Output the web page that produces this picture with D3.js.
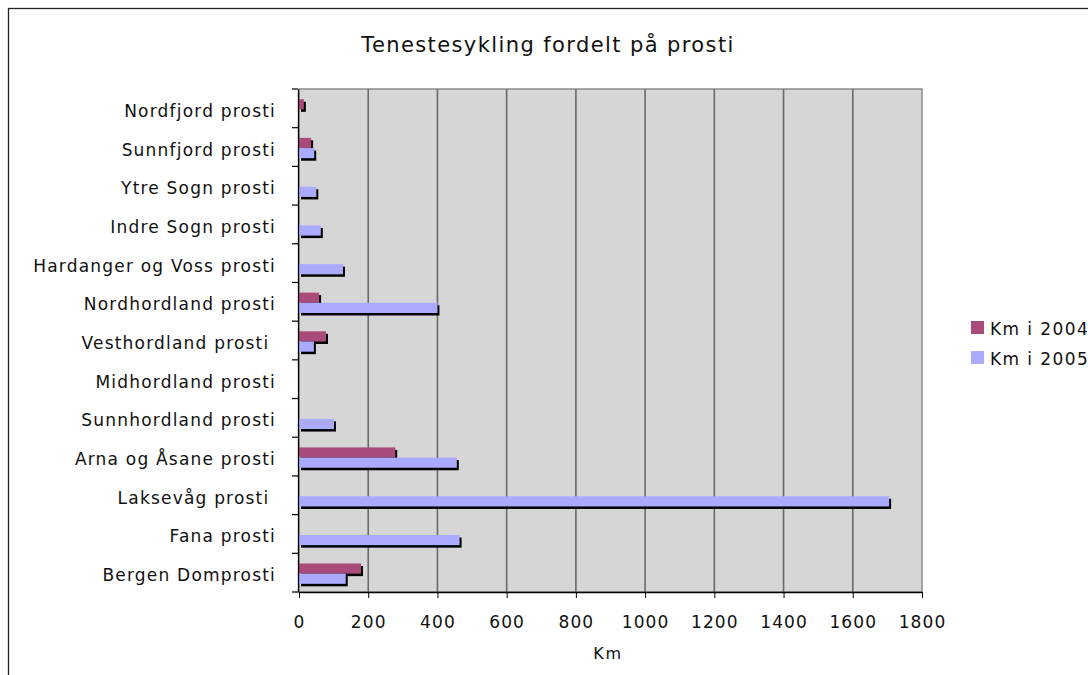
<!DOCTYPE html>
<html>
<head>
<meta charset="utf-8">
<script src="https://cdn.jsdelivr.net/npm/d3@7"></script>
<style>
  body { margin: 0; background: #fff; }
  svg text { font-family: "DejaVu Sans", Verdana, sans-serif; fill: #111; white-space: pre; }
</style>
</head>
<body>
<svg id="chart" width="1088" height="675"></svg>
<script>
// categories, top to bottom as drawn
var categories = ["Nordfjord prosti", "Sunnfjord prosti", "Ytre Sogn prosti", "Indre Sogn prosti",
  "Hardanger og Voss prosti", "Nordhordland prosti", "Vesthordland prosti ", "Midhordland prosti",
  "Sunnhordland prosti", "Arna og Åsane prosti", "Laksevåg prosti ", "Fana prosti", "Bergen Domprosti"];
var series = ["Km i 2004", "Km i 2005"];
var km2004 = [14, 35, 0, 0, 0, 58, 78, 0, 0, 278, 0, 0, 179];
var km2005 = [0, 44, 50, 63, 127, 400, 43, 0, 101, 456, 1705, 464, 135];
var xTicks = [0, 200, 400, 600, 800, 1000, 1200, 1400, 1600, 1800];
var colors = ["#a94b7a", "#aaaaff"];

// plot area
var plot = { left: 299, right: 922, top: 89, bottom: 592 };

var svg = d3.select("#chart");

// outer chart frame (runs off the page on the right and bottom)
svg.append("rect").attr("x", 8.5).attr("y", 8.5).attr("width", 1200).attr("height", 800)
  .attr("fill", "#fff").attr("stroke", "#222").attr("stroke-width", 1.3);

var x = d3.scaleLinear().domain([0, 1800]).range([plot.left, plot.right]);
var y0 = d3.scaleBand().domain(categories).range([plot.top, plot.bottom]);
var y1 = d3.scaleBand().domain(series).range([0, y0.bandwidth()]).paddingOuter(0.9);

// background
svg.append("rect").attr("x", plot.left).attr("y", plot.top)
  .attr("width", plot.right - plot.left).attr("height", plot.bottom - plot.top)
  .attr("fill", "#d6d6d6").attr("stroke", "#8c8c8c").attr("stroke-width", 1.5);

// gridlines
svg.append("g").selectAll("line").data(xTicks.slice(1, -1)).enter().append("line")
  .attr("x1", function(d){ return x(d); }).attr("x2", function(d){ return x(d); })
  .attr("y1", plot.top).attr("y2", plot.bottom)
  .attr("stroke", "#6a6a6a").attr("stroke-width", 1.6);

// rows of bars
var rows = categories.map(function(c, i){
  return { cat: c, vals: [{ s: series[0], v: km2004[i] }, { s: series[1], v: km2005[i] }] };
});
var groups = svg.append("g").selectAll("g").data(rows).enter().append("g")
  .attr("transform", function(d){ return "translate(0," + (y0(d.cat) + 1) + ")"; });

// shadows first, then the bars on top
groups.selectAll("rect.shadow").data(function(d){ return d.vals.filter(function(e){ return e.v > 0; }); })
  .enter().append("rect").attr("class", "shadow")
  .attr("x", x(0) + 2).attr("y", function(d){ return y1(d.s) + 2.5; })
  .attr("width", function(d){ return x(d.v) - x(0); }).attr("height", y1.bandwidth())
  .attr("fill", "#000");
groups.selectAll("rect.bar").data(function(d){ return d.vals.filter(function(e){ return e.v > 0; }); })
  .enter().append("rect").attr("class", "bar")
  .attr("x", x(0)).attr("y", function(d){ return y1(d.s); })
  .attr("width", function(d){ return x(d.v) - x(0); }).attr("height", y1.bandwidth())
  .attr("fill", function(d){ return colors[series.indexOf(d.s)]; });

// x axis
var xAxis = d3.axisBottom(x).tickValues(xTicks).tickFormat(d3.format("d"))
  .tickSize(6).tickPadding(18).tickSizeOuter(0);
var gx = svg.append("g").attr("transform", "translate(0," + plot.bottom + ")").call(xAxis);
gx.select(".domain").attr("stroke", "#000").attr("stroke-width", 1.3);
gx.selectAll("text").attr("font-size", 17).attr("letter-spacing", 1.1).attr("fill", "#111")
  .style("font-family", "'DejaVu Sans', Verdana, sans-serif");

// y axis: labels
var yAxis = d3.axisLeft(y0).tickSize(0).tickPadding(22);
var gy = svg.append("g").attr("transform", "translate(" + (plot.left - 1) + ",0)").call(yAxis);
gy.select(".domain").attr("stroke", "#000").attr("stroke-width", 1.3);
gy.selectAll("text").attr("font-size", 17).attr("letter-spacing", 1.2).attr("dy", "0.5em")
  .attr("fill", "#111").style("font-family", "'DejaVu Sans', Verdana, sans-serif");
// y axis: tick marks on the category boundaries
var bounds = categories.map(function(c){ return y0(c); }).concat([plot.bottom]);
gy.append("g").selectAll("line").data(bounds).enter().append("line")
  .attr("x1", -6).attr("x2", 0).attr("y1", function(d){ return d; }).attr("y2", function(d){ return d; })
  .attr("stroke", "#000").attr("stroke-width", 1.2);

// title
svg.append("text").attr("x", 548).attr("y", 52).attr("text-anchor", "middle")
  .attr("font-size", 21).attr("letter-spacing", 1.4).text("Tenestesykling fordelt på prosti");

// axis title
svg.append("text").attr("x", 608).attr("y", 659).attr("text-anchor", "middle")
  .attr("font-size", 16).attr("letter-spacing", 1.8).text("Km");

// legend
var legend = svg.append("g").selectAll("g").data(series).enter().append("g")
  .attr("transform", function(d, i){ return "translate(971," + (321 + i * 30) + ")"; });
legend.append("rect").attr("width", 13).attr("height", 13)
  .attr("fill", function(d, i){ return colors[i]; });
legend.append("text").attr("x", 19).attr("y", 13.5).attr("font-size", 17).attr("letter-spacing", 1.4)
  .text(function(d){ return d; });
</script>
</body>
</html>
